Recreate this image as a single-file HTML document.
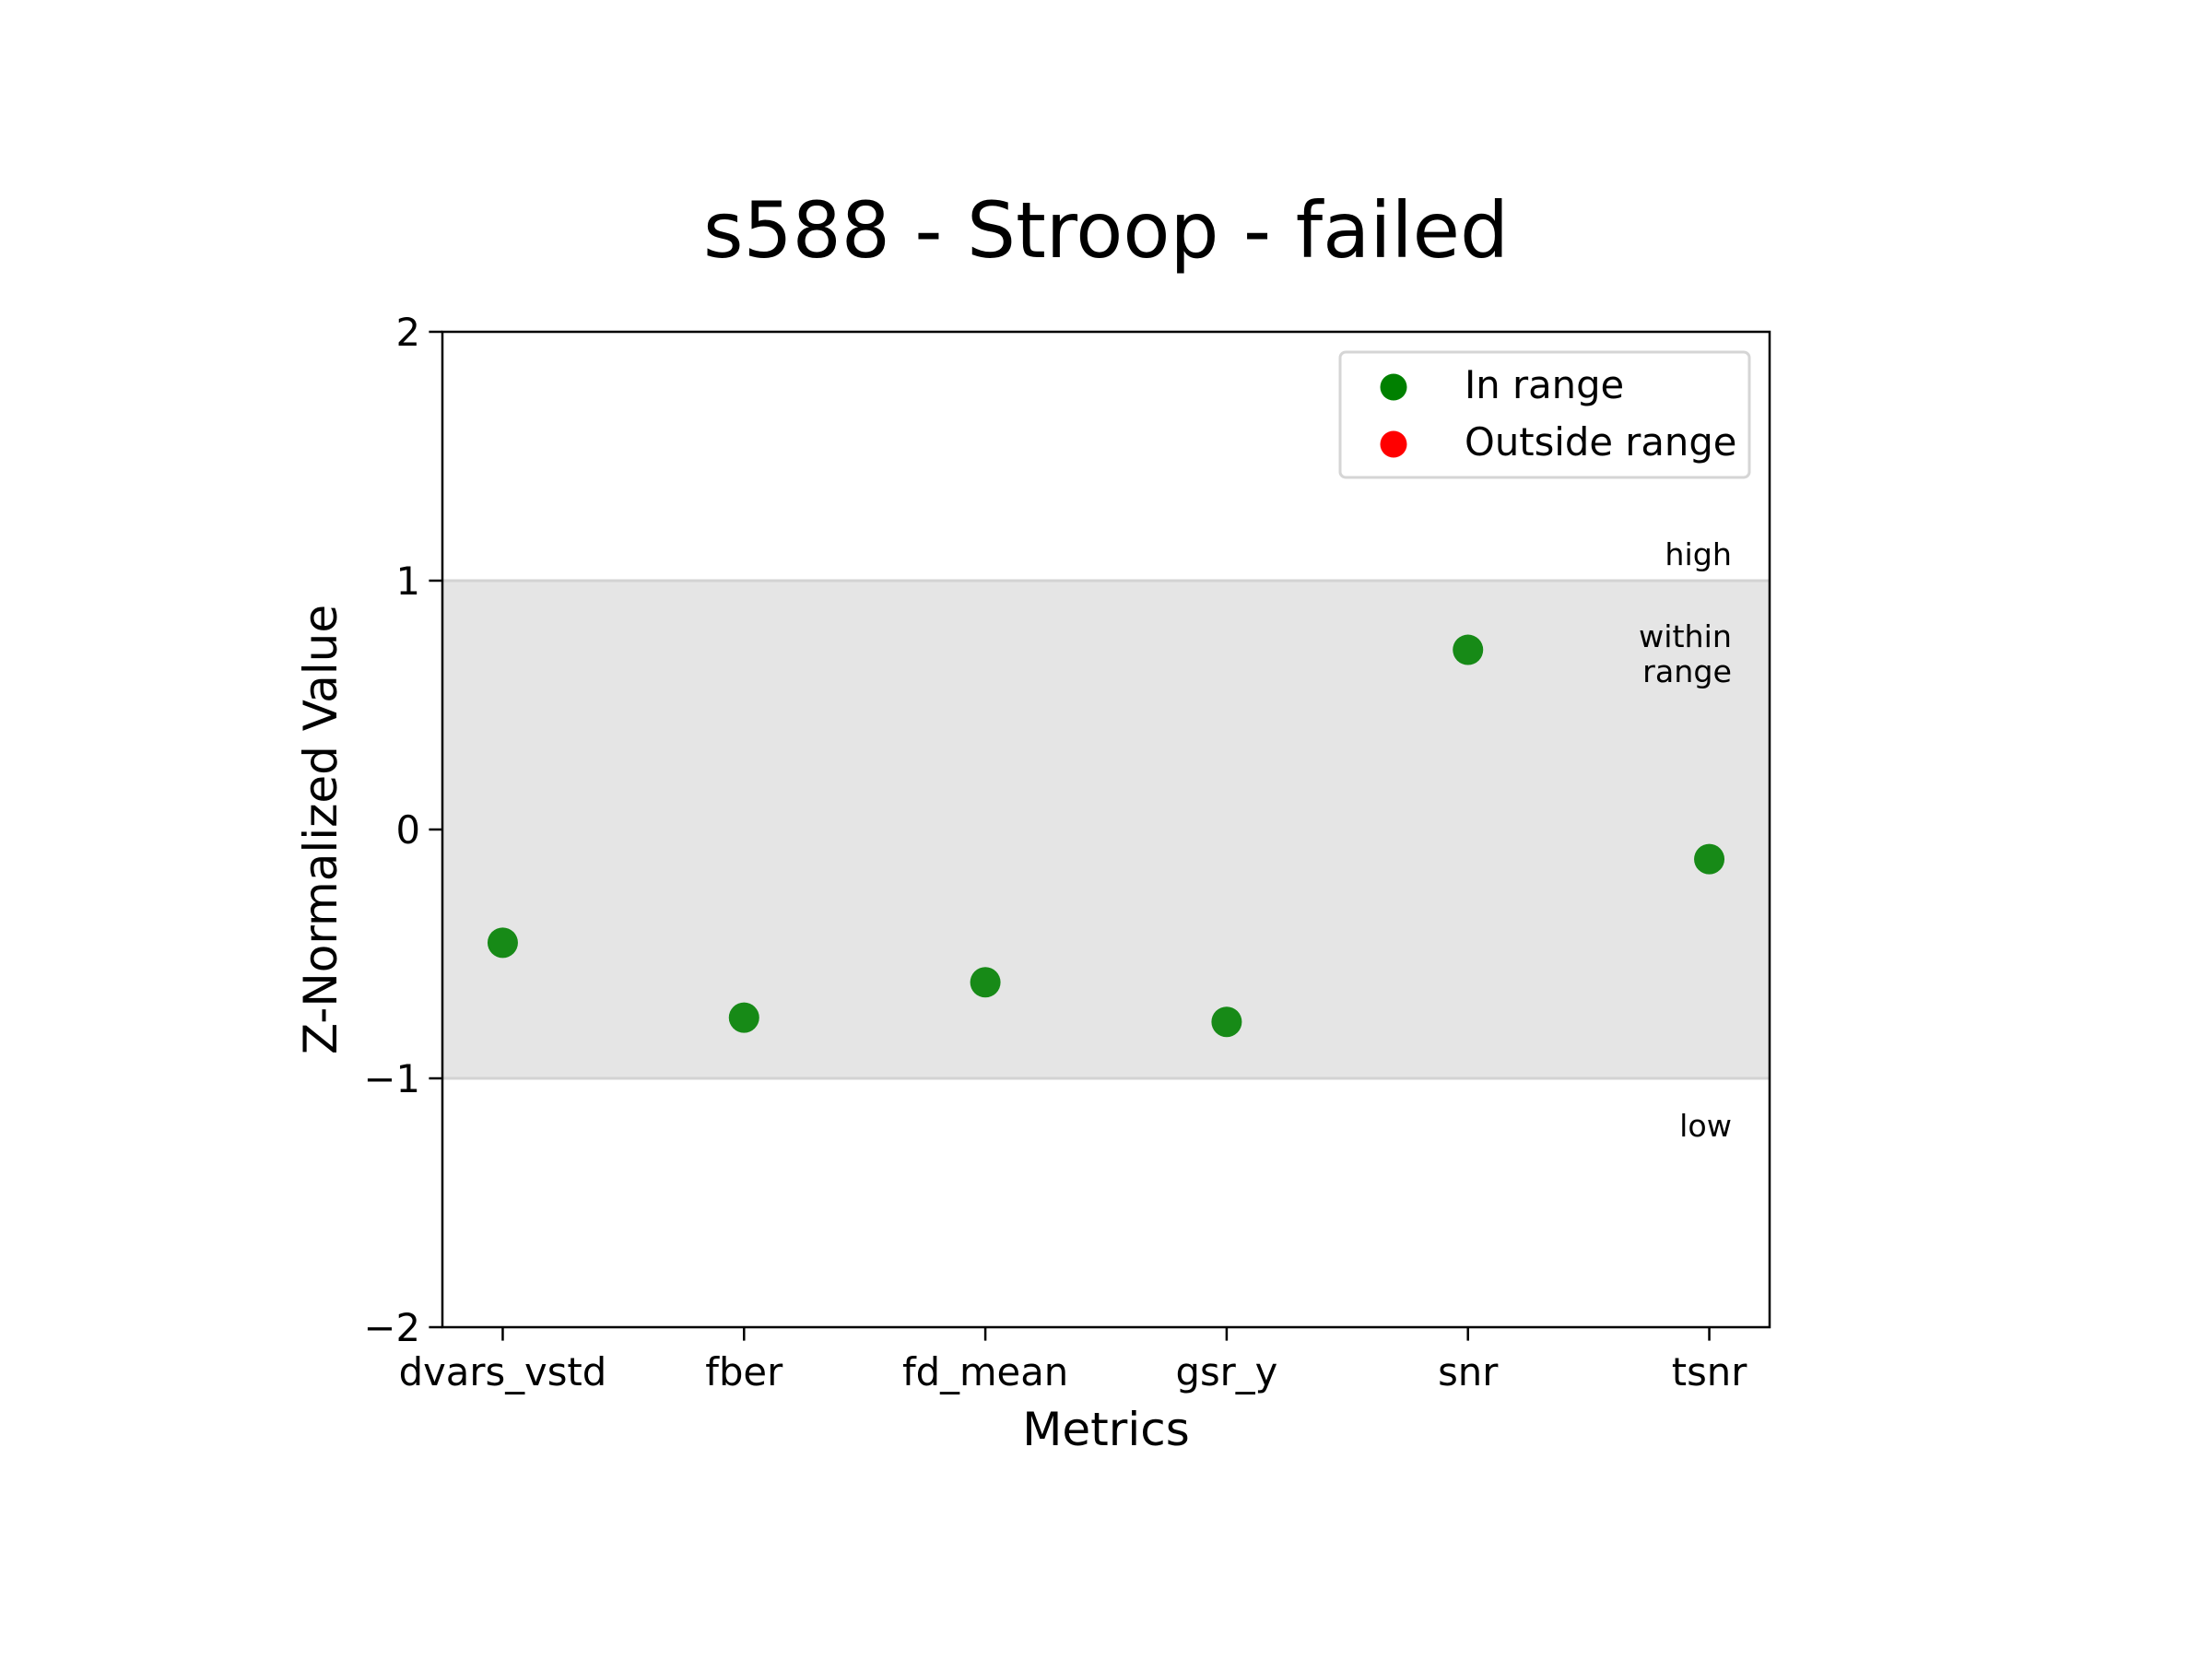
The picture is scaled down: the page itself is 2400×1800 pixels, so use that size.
<!DOCTYPE html>
<html><head><meta charset="utf-8"><style>
html,body{margin:0;padding:0;background:#fff;}
svg{display:block;font-family:"DejaVu Sans","Liberation Sans",sans-serif;}
</style></head><body>
<svg id="chart" width="2400" height="1800" viewBox="0 0 2400 1800">
<rect x="0" y="0" width="2400" height="1800" fill="#fff"/>
<text x="1200" y="279" font-size="83.5" text-anchor="middle">s588 - Stroop - failed</text>
<g id="plot"></g>
<text x="1200" y="1568" font-size="50" text-anchor="middle">Metrics</text>
<text transform="translate(365,900) rotate(-90)" font-size="50" text-anchor="middle">Z-Normalized Value</text>
<g>
<rect x="1454" y="382" width="444" height="136" rx="6" fill="#fff" stroke="#d5d5d5" stroke-width="3"/>
<circle cx="1512" cy="420" r="14.5" fill="#008000"/>
<text x="1589" y="432" font-size="41.7">In range</text>
<circle cx="1512" cy="482" r="14.5" fill="#ff0000"/>
<text x="1589" y="494" font-size="41.7">Outside range</text>
</g>
</svg>
<script>
const categories = ["dvars_vstd","fber","fd_mean","gsr_y","snr","tsnr"];
const values = [-0.455,-0.756,-0.614,-0.773,0.722,-0.119];
const yTicks = [2,1,0,-1,-2];
const yTickLabels = ["2","1","0","\u22121","\u22122"];
const bandLow = -1, bandHigh = 1;

const L=480,R=1920,T=360,B=1440;
const xMin=-0.25,xMax=5.25,yMin=-2,yMax=2;
function sx(i){return L+(i-xMin)/(xMax-xMin)*(R-L);}
function sy(v){return B-(v-yMin)/(yMax-yMin)*(B-T);}
const NS="http://www.w3.org/2000/svg";
const g=document.getElementById('plot');
function mk(tag,attrs,parent){const e=document.createElementNS(NS,tag);for(const k in attrs)e.setAttribute(k,attrs[k]);(parent||g).appendChild(e);return e;}

let band=mk('rect',{x:L,y:sy(bandHigh),width:R-L,height:sy(bandLow)-sy(bandHigh),fill:'#e5e5e5'});


[bandHigh,bandLow].forEach(v=>{
  let l=mk('line',{x1:L,x2:R,y1:sy(v),y2:sy(v),stroke:'#d3d3d3','stroke-width':3});
  
  
});
const ann=[["high",613],["within",702],["range",740],["low",1233]];
ann.forEach(a=>{
  let t=mk('text',{x:1879,y:a[1],'font-size':33.3,'text-anchor':'end'});t.textContent=a[0];
  
  
});
yTicks.forEach((v,i)=>{
  let tk=mk('line',{x1:L-14.6,x2:L,y1:sy(v),y2:sy(v),stroke:'#000','stroke-width':2.5});
  
  
  let t=mk('text',{x:L-24,y:sy(v)+15,'font-size':41.7,'text-anchor':'end'});t.textContent=yTickLabels[i];
  
  
});
categories.forEach((c,i)=>{
  let tk=mk('line',{x1:sx(i),x2:sx(i),y1:B,y2:B+14.6,stroke:'#000','stroke-width':2.5});
  
  
  let t=mk('text',{x:sx(i),y:1503,'font-size':41.7,'text-anchor':'middle'});t.textContent=c;
  
  
});
values.forEach((v,i)=>{
  const inr=v>=bandLow&&v<=bandHigh;
  let p=mk('circle',{cx:sx(i),cy:sy(v),r:16.5,fill:inr?'#008000':'#ff0000','fill-opacity':0.9});
  
  
});
let fr=mk('rect',{x:L,y:T,width:R-L,height:B-T,fill:'none',stroke:'#000','stroke-width':2.5});


</script>
</body></html>
